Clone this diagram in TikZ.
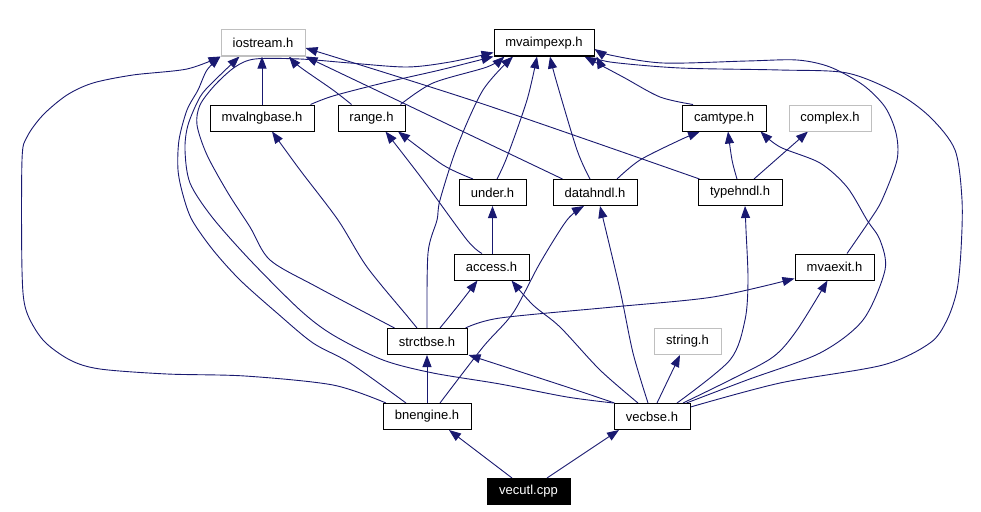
\documentclass[tikz,border=0pt]{standalone}
\usepackage{fontspec}
\setmainfont{Liberation Sans}
\usetikzlibrary{arrows.meta}
\definecolor{edgecol}{RGB}{25,25,112}
\definecolor{boxgray}{RGB}{191,191,191}
\pgfdeclarelayer{bg}
\pgfsetlayers{bg,main}
\tikzset{
  box/.style={draw=black, line width=1pt, fill=white, minimum height=26pt, inner sep=0pt,
    font=\fontsize{13}{15}\selectfont},
  gbox/.style={box, draw=boxgray},
  rootbox/.style={box, fill=black, text=white},
  edge/.style={draw=edgecol, line width=0.9pt, -{Triangle[length=12pt,width=9pt]}},
  sm/.style={smooth, tension=0.5}
}
\begin{document}
\begin{tikzpicture}[x=1pt,y=-1pt]
\useasboundingbox (0,0) rectangle (981,511);
% nodes
\node[gbox, minimum width=84pt]  (iostream)   at (263,43)    {iostream.h};
\node[box,  minimum width=100pt] (mvaimpexp)  at (544,43)    {mvaimpexp.h};
\node[box,  minimum width=104pt] (mvalngbase) at (262,118)   {mvalngbase.h};
\node[box,  minimum width=67pt]  (range)      at (371.5,118) {range.h};
\node[box,  minimum width=84pt]  (camtype)    at (724,118)   {camtype.h};
\node[gbox, minimum width=82pt]  (complex)    at (830,118)   {complex.h};
\node[box,  minimum width=67pt]  (under)      at (492.5,192.5) {under.h};
\node[box,  minimum width=84pt]  (datahndl)   at (595,192.5) {datahndl.h};
\node[box,  minimum width=84pt]  (typehndl)   at (740,192.5) {typehndl.h};
\node[box,  minimum width=75pt]  (access)     at (491.5,267) {access.h};
\node[box,  minimum width=79pt]  (mvaexit)    at (834.5,267) {mvaexit.h};
\node[box,  minimum width=80pt]  (strctbse)   at (427,341.5) {strctbse.h};
\node[gbox, minimum width=67pt]  (string)     at (687.5,341.5) {string.h};
\node[box,  minimum width=88pt]  (bnengine)   at (427,416.5) {bnengine.h};
\node[box,  minimum width=76pt]  (vecbse)     at (652,416.5) {vecbse.h};
\node[rootbox, minimum width=83pt] (vecutl)   at (528.5,491.5) {vecutl.cpp};
% edges
\begin{pgfonlayer}{bg}
\draw[edge] ([xshift=-16.5pt]vecutl.north) -- ([xshift=22pt]bnengine.south);
\draw[edge] ([xshift=18.5pt]vecutl.north) -- ([xshift=-33pt]vecbse.south);
\draw[edge] (bnengine.north) -- (strctbse.south);
\draw[edge] plot[sm] coordinates {([xshift=13pt]bnengine.north) (483,347) (513,313) (540,263) (567,220) ([xshift=-11pt]datahndl.south)};
\draw[edge] plot[sm] coordinates {([xshift=-41pt]bnengine.north) (333,385) (245,376) (167,374) (100,369) (70,360) (43,340) (26,310) (22,270) (22,160) (27,137) (43,115) (67,95) (93,83) (133,75) (187,69) (iostream.south west)};
\draw[edge] plot[sm] coordinates {([xshift=-21pt]bnengine.north) (350,363) (313,343) (277,313) (240,280) (213,250) (192,220) (183,195) (178,170) (179,140) (187,110) (198,90) (207,70) (iostream.south west)};
\draw[edge] plot[sm] coordinates {(vecbse.north west) (567,397) (500,384) (433,373) (383,360) (333,335) (300,310) (250,260) (212,217) (190,183) (185,150) (188,125) (200,97) (213,82) ([xshift=19pt]iostream.south west)};
\draw[edge] plot[sm] coordinates {([xshift=8pt]strctbse.north west) (317,287) (270,260) (250,227) (228,193) (207,155) (197,125) (200,105) (215,85) (235,67) (255,59) (300,59) (350,63) (407,67) (450,62) ([yshift=4pt]mvaimpexp.south west)};
\draw[edge] plot[sm] coordinates {(strctbse.north) (428,253) (437,220) (440,200) (457,147) (483,90) ([xshift=-31pt]mvaimpexp.south)};
\draw[edge] plot[sm] coordinates {([xshift=13pt]strctbse.north) (457,307) ([xshift=-14pt]access.south)};
\draw[edge] plot[sm] coordinates {([xshift=-2pt]strctbse.north east) (500,318) (613,307) (713,297) ([yshift=2pt]mvaexit.south west)};
\draw[edge] plot[sm] coordinates {([xshift=-10pt]strctbse.north) (408,317) (367,267) (338,220) (300,170) ([xshift=10pt]mvalngbase.south)};
\draw[edge] plot[sm] coordinates {([xshift=-9.5pt]access.north) (467,240) (423,180) ([xshift=14pt]range.south)};
\draw[edge] ([xshift=1pt]access.north) -- (under.south);
\draw[edge] plot[sm] coordinates {([xshift=-19.5pt]under.north) (443,165) ([xshift=26.5pt]range.south)};
\draw[edge] plot[sm] coordinates {([xshift=4.5pt]under.north) (507,157) (527,100) ([xshift=-7pt]mvaimpexp.south)};
\draw[edge] plot[sm] coordinates {([xshift=-5pt]datahndl.north) (577,150) (556,80) ([xshift=6pt]mvaimpexp.south)};
\draw[edge] plot[sm] coordinates {([xshift=22pt]datahndl.north) (640,160) (680,140) ([xshift=-24pt]camtype.south)};
\draw[edge] ([xshift=10pt]datahndl.north west) -- (iostream.south east);
\draw[edge] plot[sm] coordinates {([xshift=2pt]typehndl.north west) (480,103) ([yshift=-5pt]iostream.east)};
\draw[edge] plot[sm] coordinates {([xshift=-3pt]typehndl.north) (732,160) ([xshift=4pt]camtype.south)};
\draw[edge] ([xshift=14pt]typehndl.north) -- ([xshift=-22pt]complex.south);
\draw[edge] plot[sm] coordinates {([xshift=-31pt]camtype.north) (660,97) (623,77) ([xshift=-10pt]mvaimpexp.south east)};
\draw[edge] plot[sm] coordinates {([xshift=12.5pt]mvaexit.north) (870,220) (882,200) (897,160) (896,133) (885,107) (863,85) (830,67) (797,60) (747,61) (663,63) (610,55) ([yshift=-6pt]mvaimpexp.east)};
\draw[edge] plot[sm] coordinates {([yshift=-4pt]vecbse.north east) (780,383) (883,365) (930,343) (947,320) (957,290) (961,250) (962,200) (955,150) (930,117) (897,93) (847,73) (780,70) (680,68) (610,62) ([xshift=2pt]mvaimpexp.south east)};
\draw[edge] plot[sm] coordinates {([xshift=25pt]vecbse.north) (730,360) (745,320) (748,280) (746,230) ([xshift=5pt]typehndl.south)};
\draw[edge] plot[sm] coordinates {([xshift=31pt]vecbse.north) (730,380) (773,357) (797,330) ([xshift=-7pt]mvaexit.south)};
\draw[edge] plot[sm] coordinates {([xshift=-4pt]vecbse.north east) (747,380) (820,353) (863,320) (885,270) (880,240) (867,220) (847,187) (820,163) (780,147) ([xshift=-6pt]camtype.south east)};
\draw[edge] ([xshift=5pt]vecbse.north) -- ([xshift=-7.5pt]string.south);
\draw[edge] plot[sm] coordinates {([xshift=-4pt]vecbse.north) (633,353) (620,290) ([xshift=5pt]datahndl.south)};
\draw[edge] plot[sm] coordinates {([xshift=-14pt]vecbse.north) (600,370) (560,327) (533,305) ([xshift=20pt]access.south)};
\draw[edge] plot[sm] coordinates {([xshift=1pt]vecbse.north west) (567,387) ([xshift=1pt]strctbse.south east)};
\draw[edge] (mvalngbase.north) -- ([xshift=-1pt]iostream.south);
\draw[edge] plot[sm] coordinates {([xshift=-4pt]mvalngbase.north east) (333,96) (383,83) (440,70) (mvaimpexp.south west)};
\draw[edge] plot[sm] coordinates {([xshift=14pt]range.north west) (333,90) (300,67) ([xshift=26pt]iostream.south)};
\draw[edge] plot[sm] coordinates {([xshift=-5pt]range.north east) (433,83) (487,67) ([xshift=11pt]mvaimpexp.south west)};
\end{pgfonlayer}
\end{tikzpicture}
\end{document}
